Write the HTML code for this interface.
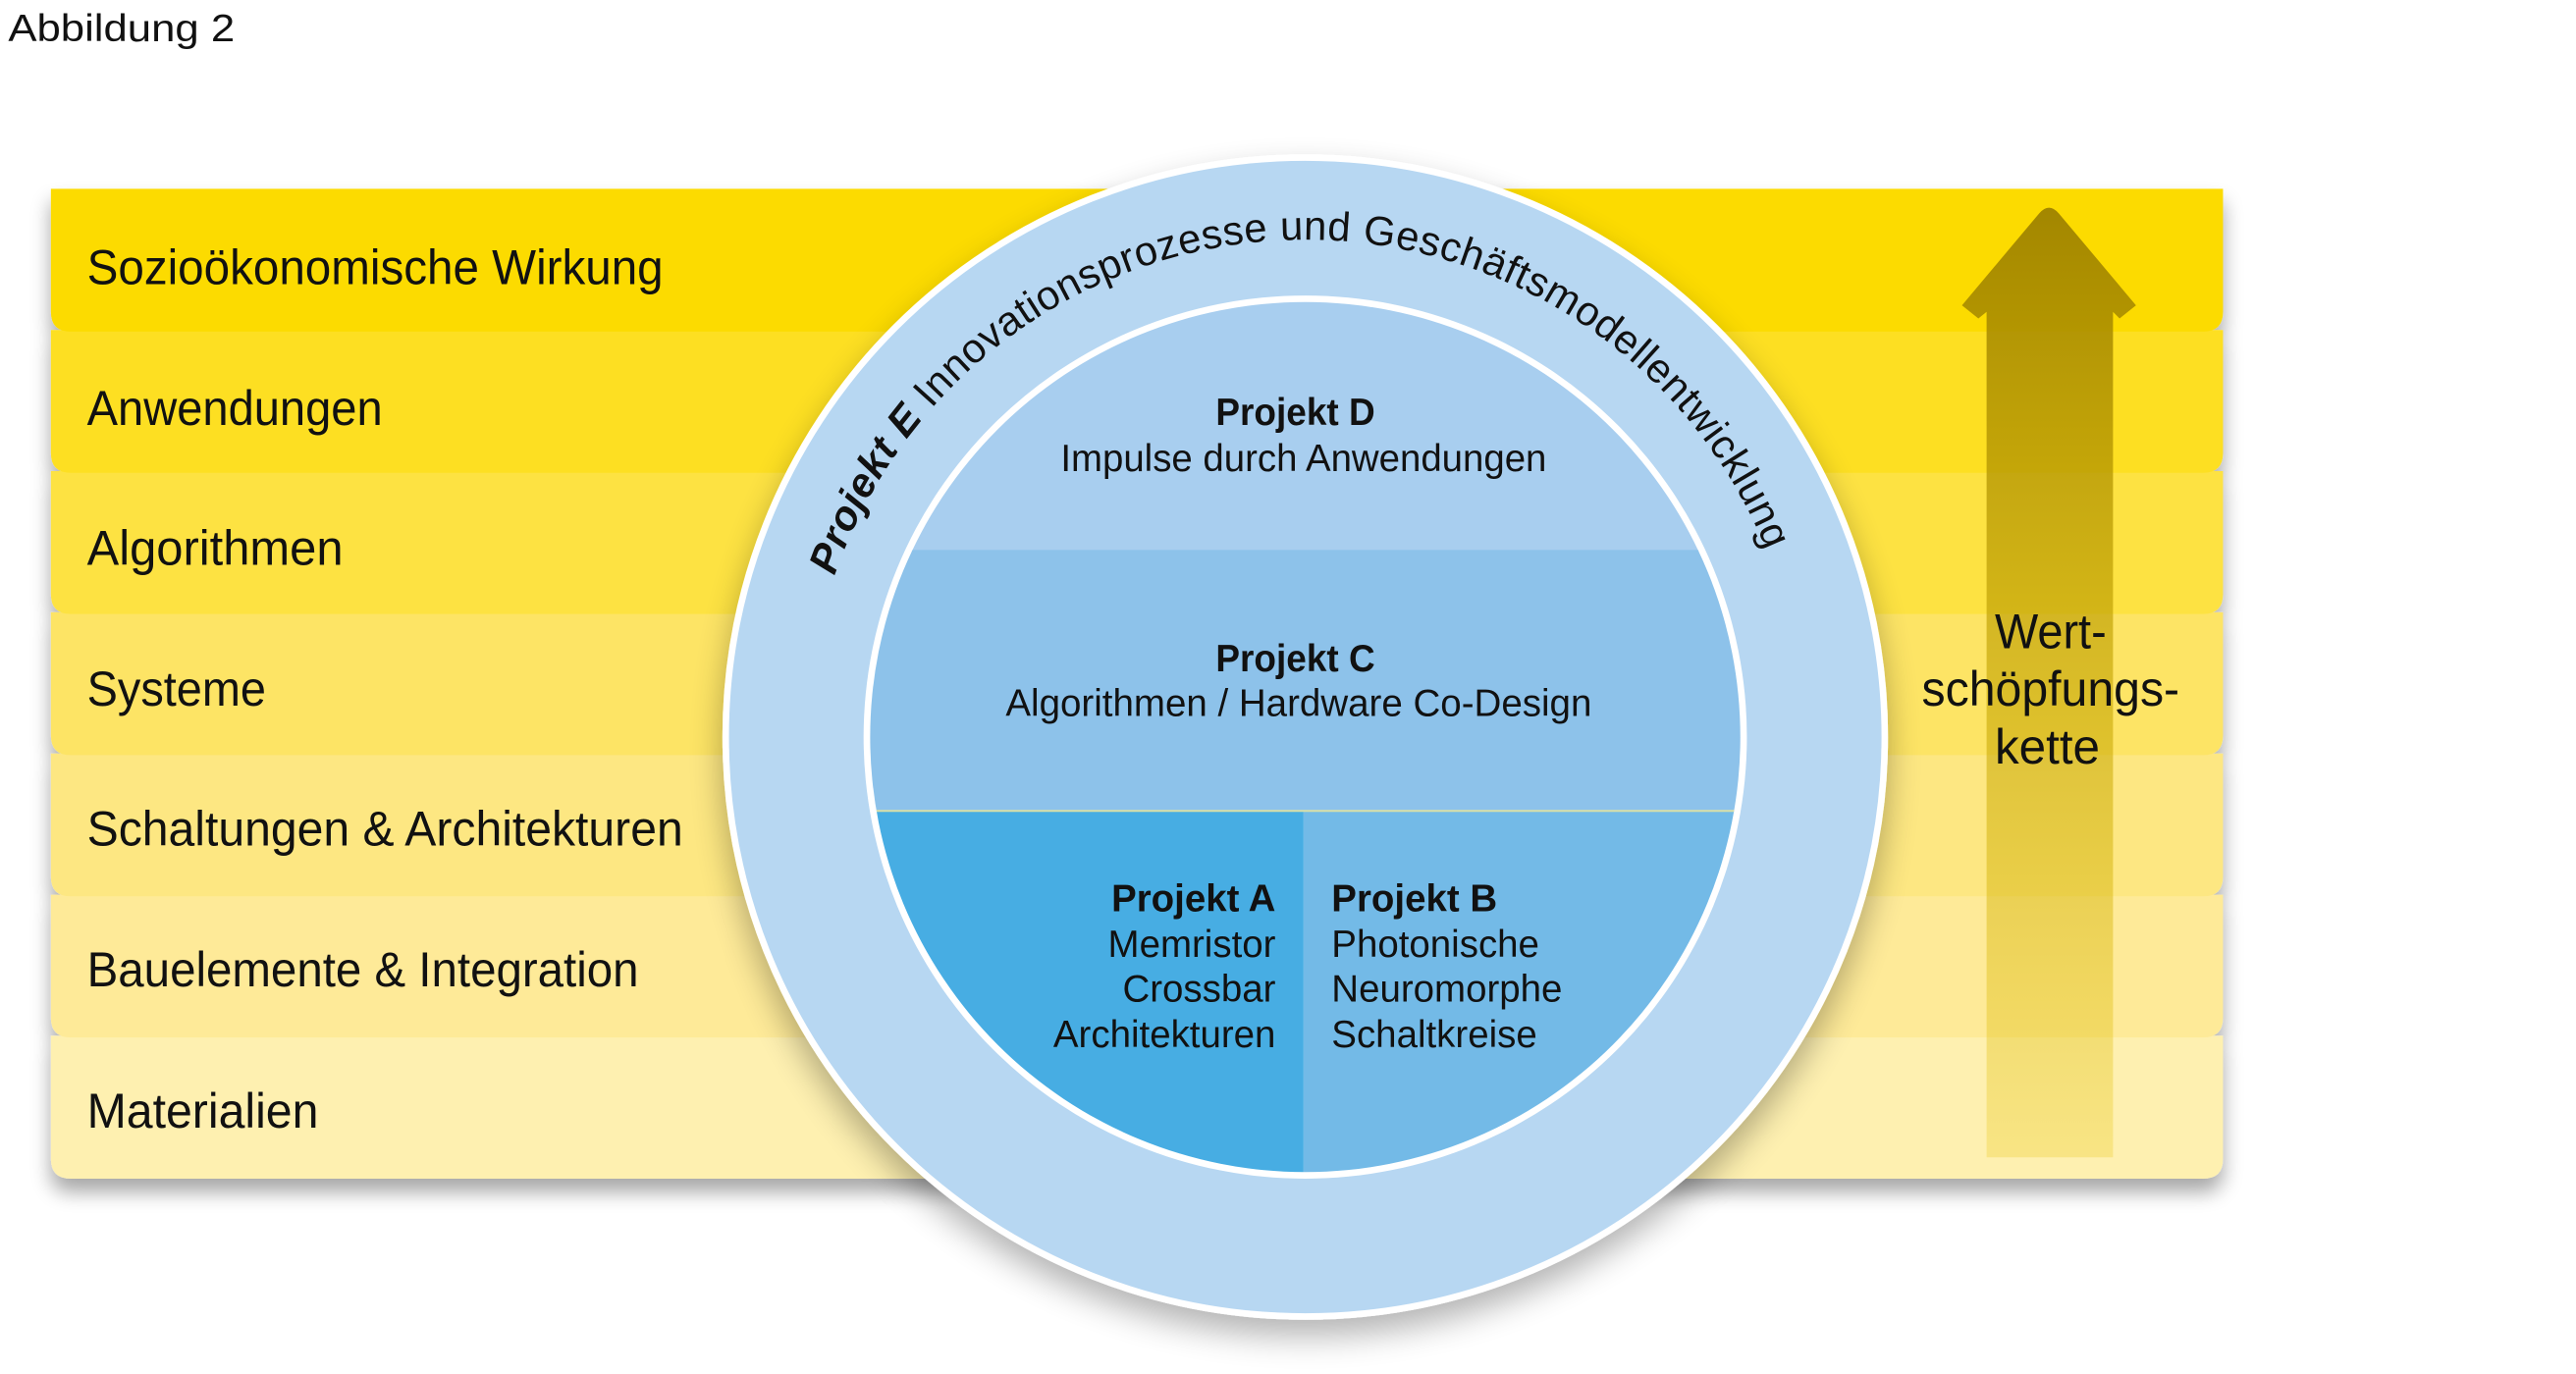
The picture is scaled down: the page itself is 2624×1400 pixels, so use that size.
<!DOCTYPE html>
<html><head><meta charset="utf-8"><style>
html,body{margin:0;padding:0;background:#fff;}
svg{display:block;}
text{font-family:"Liberation Sans Narrow","Liberation Sans",sans-serif;fill:#111;}
</style></head><body>
<svg width="2624" height="1400" viewBox="0 0 1569 837" preserveAspectRatio="none" xmlns="http://www.w3.org/2000/svg">
<defs>
<filter id="sh" x="-10%" y="-20%" width="120%" height="160%">
<feGaussianBlur in="SourceAlpha" stdDeviation="6"/><feOffset dx="0" dy="8"/>
<feComponentTransfer><feFuncA type="linear" slope="0.35"/></feComponentTransfer>
<feMerge><feMergeNode/><feMergeNode in="SourceGraphic"/></feMerge></filter>
<filter id="csh" x="-20%" y="-20%" width="140%" height="140%">
<feGaussianBlur in="SourceAlpha" stdDeviation="10"/><feOffset dx="0" dy="10"/>
<feComponentTransfer><feFuncA type="linear" slope="0.3"/></feComponentTransfer>
<feMerge><feMergeNode/><feMergeNode in="SourceGraphic"/></feMerge></filter>
<linearGradient id="ag" x1="0" y1="0" x2="0" y2="1">
<stop offset="0" stop-color="#9E8200" stop-opacity="0.95"/>
<stop offset="1" stop-color="#E6C200" stop-opacity="0.25"/>
</linearGradient>
<clipPath id="ic"><circle cx="795" cy="449" r="265"/></clipPath>
<path id="arc" d="M 492 449 A 303 303 0 0 1 1098 449"/>
</defs>

<text x="5" y="25" font-size="23" textLength="138" lengthAdjust="spacingAndGlyphs" font-family="Liberation Sans, sans-serif">Abbildung 2</text>

<g filter="url(#sh)">
<path d="M31 631 H1354 V706 Q1354 718 1342 718 H43 Q31 718 31 706 Z" fill="#FEF0B0"/>
<path d="M31 545 H1354 V620 Q1354 632 1342 632 H43 Q31 632 31 620 Z" fill="#FEEA98"/>
<path d="M31 459 H1354 V534 Q1354 546 1342 546 H43 Q31 546 31 534 Z" fill="#FDE782"/>
<path d="M31 373 H1354 V448 Q1354 460 1342 460 H43 Q31 460 31 448 Z" fill="#FDE465"/>
<path d="M31 287 H1354 V362 Q1354 374 1342 374 H43 Q31 374 31 362 Z" fill="#FDE242"/>
<path d="M31 201 H1354 V276 Q1354 288 1342 288 H43 Q31 288 31 276 Z" fill="#FDDF22"/>
<path d="M31 115 H1354 V190 Q1354 202 1342 202 H43 Q31 202 31 190 Z" fill="#FCDB00"/>
</g>

<g font-size="30">
<text x="53" y="173" textLength="351" lengthAdjust="spacingAndGlyphs">Sozioökonomische Wirkung</text>
<text x="53" y="259" textLength="180" lengthAdjust="spacingAndGlyphs">Anwendungen</text>
<text x="53" y="344" textLength="156" lengthAdjust="spacingAndGlyphs">Algorithmen</text>
<text x="53" y="430" textLength="109" lengthAdjust="spacingAndGlyphs">Systeme</text>
<text x="53" y="515" textLength="363" lengthAdjust="spacingAndGlyphs">Schaltungen &amp; Architekturen</text>
<text x="53" y="601" textLength="336" lengthAdjust="spacingAndGlyphs">Bauelemente &amp; Integration</text>
<text x="53" y="687" textLength="141" lengthAdjust="spacingAndGlyphs">Materialien</text>
</g>

<path d="M1210 705 V190 L1205 194 L1195 186 L1242 130 Q1248 123 1254 130 L1301 186 L1291 194 L1287 190 V705 Z" fill="url(#ag)"/>
<g font-size="30" text-anchor="middle">
<text x="1249" y="395" textLength="68" lengthAdjust="spacingAndGlyphs">Wert-</text>
<text x="1249" y="430" textLength="157" lengthAdjust="spacingAndGlyphs">schöpfungs-</text>
<text x="1247" y="465" textLength="64" lengthAdjust="spacingAndGlyphs">kette</text>
</g>

<circle cx="795" cy="449" r="353" fill="#B7D7F2" stroke="#fff" stroke-width="4" filter="url(#csh)"/>
<circle cx="795" cy="449" r="269" fill="#fff"/>
<g clip-path="url(#ic)">
<rect x="520" y="170" width="560" height="166" fill="#A8CEEF"/>
<rect x="520" y="335" width="560" height="159" fill="#8DC2EA"/>
<rect x="520" y="494" width="274" height="240" fill="#47ADE3"/>
<rect x="794" y="494" width="280" height="240" fill="#73BAE7"/>
<line x1="520" y1="494" x2="1080" y2="494" stroke="#D8DFA8" stroke-width="1.2"/>
</g>

<text font-size="23" font-weight="bold" text-anchor="middle" x="789" y="259" textLength="97" lengthAdjust="spacingAndGlyphs">Projekt D</text>
<text font-size="23" text-anchor="middle" x="794" y="287" textLength="296" lengthAdjust="spacingAndGlyphs">Impulse durch Anwendungen</text>
<text font-size="23" font-weight="bold" text-anchor="middle" x="789" y="409" textLength="97" lengthAdjust="spacingAndGlyphs">Projekt C</text>
<text font-size="23" text-anchor="middle" x="791" y="436" textLength="357" lengthAdjust="spacingAndGlyphs">Algorithmen / Hardware Co-Design</text>
<g font-size="23" text-anchor="end">
<text x="777" y="555" font-weight="bold">Projekt A</text>
<text x="777" y="583">Memristor</text>
<text x="777" y="610">Crossbar</text>
<text x="777" y="638">Architekturen</text>
</g>
<g font-size="23">
<text x="811" y="555" font-weight="bold">Projekt B</text>
<text x="811" y="583">Photonische</text>
<text x="811" y="610">Neuromorphe</text>
<text x="811" y="638">Schaltkreise</text>
</g>

<text font-size="25"><textPath href="#arc" startOffset="10.5%" textLength="735" lengthAdjust="spacing"><tspan font-weight="bold" font-style="italic" font-family="Liberation Sans, sans-serif">Projekt E</tspan><tspan font-family="Liberation Sans, sans-serif"> Innovationsprozesse und Geschäftsmodellentwicklung</tspan></textPath></text>
</svg>
</body></html>
